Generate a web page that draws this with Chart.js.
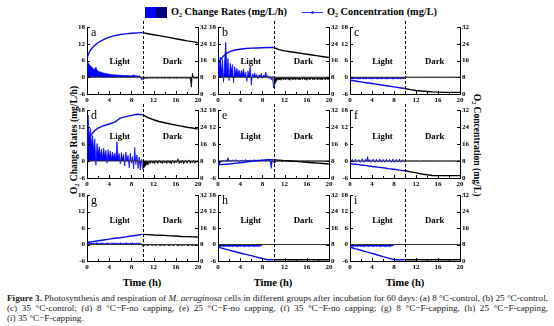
<!DOCTYPE html>
<html>
<head>
<meta charset="utf-8">
<script src="https://cdn.jsdelivr.net/npm/chart.js@4.4.0/dist/chart.umd.min.js"></script>
<style>
  html, body { margin: 0; padding: 0; background: #fff; }
  body { width: 554px; height: 326px; position: relative; overflow: hidden; font-family: "Liberation Serif", "Times New Roman", serif; color: #000; }
  canvas.panel { position: absolute; }
  .abs { position: absolute; white-space: nowrap; }
  sub { font-size: 6px; vertical-align: -2px; line-height: 0; }
  .swatch { position: absolute; top: 7px; width: 11px; height: 11px; }
  .legtext { font: bold 10.3px "Liberation Serif", serif; top: 5px; line-height: 14px; }
  .axtitle { font: bold 9.6px "Liberation Serif", serif; line-height: 11px; }
  .timelab { font: bold 10.5px "Liberation Serif", serif; transform: translate(-50%, -50%); }
  .cap { position: absolute; left: 7px; font-family: "Liberation Serif", "Times New Roman", serif; font-size: 8.4px; line-height: 10px; color: #222; white-space: nowrap; }
</style>
</head>
<body>

<!-- legend -->
<div class="swatch" style="left:145px;background:#0000ff"></div>
<div class="swatch" style="left:156px;background:#000080"></div>
<div class="abs legtext" style="left:171px">O<sub>2</sub> Change Rates (mg/L/h)</div>
<div class="abs" style="left:302px;top:12px;width:21px;height:1px;background:#3030ff"></div>
<div class="abs" style="left:311px;top:11px;width:3px;height:3px;border-radius:2px;background:#3030ff"></div>
<div class="abs legtext" style="left:327px">O<sub>2</sub> Concentration (mg/L)</div>

<!-- axis titles -->
<div class="abs axtitle" style="left:73px;top:140px;transform:translate(-50%,-50%) rotate(-90deg)">O<sub>2</sub> Change Rates (mg/L/h)</div>
<div class="abs axtitle" style="left:477px;top:145px;transform:translate(-50%,-50%) rotate(90deg)">O<sub>2</sub> Concentration (mg/L)</div>

<div class="abs timelab" style="left:142px;top:282px">Time (h)</div>
<div class="abs timelab" style="left:273px;top:282px">Time (h)</div>
<div class="abs timelab" style="left:405px;top:282px">Time (h)</div>

<!-- caption -->
<div class="cap fit" style="top:293px"><b>Figure 3.</b> Photosynthesis and respiration of <i>M. aeruginosa</i> cells in different groups after incubation for 60 days: (a) 8 °C-control, (b) 25 °C-control,</div>
<div class="cap fit" style="top:303px">(c) 35 °C-control; (d) 8 °C−F-no capping, (e) 25 °C−F-no capping, (f) 35 °C−F-no capping; (g) 8 °C−F-capping, (h) 25 °C−F-capping,</div>
<div class="cap" style="top:313px">(i) 35 °C−F-capping.</div>

<script>
// ---- sampling times (h) ----
const rateTimes = [
  0,0.2,0.4,0.6,0.8,1,1.2,1.4,1.6,1.8,
  2,2.2,2.4,2.6,2.8,3,3.2,3.4,3.6,3.8,
  4,4.2,4.4,4.6,4.8,5,5.2,5.4,5.6,5.8,
  6,6.2,6.4,6.6,6.8,7,7.2,7.4,7.6,7.8,
  8,8.2,8.4,8.6,8.8,9,9.2,9.4,9.6,9.8,
  10,10.2,10.4,10.6,10.8,11,11.2,11.4,11.6,11.8,
  12,12.2,12.4,12.6,12.8,13,13.2,13.4,13.6,13.8,
  14,14.2,14.4,14.6,14.8,15,15.2,15.4,15.6,15.8,
  16,16.2,16.4,16.6,16.8,17,17.2,17.4,17.6,17.8,
  18,18.2,18.4,18.6,18.8,19,19.2,19.4,19.6,19.8,
  20];
const concTimes = [0,0.5,1,1.5,2,3,4,5,6,7,8,9,10,11,12,13,14,15,16,17,18,19,20];

// ---- O2 change rates (mg/L/h) ----
const rateA = [
  5.6,5.2,4.6,4.1,3.8,3.3,3.0,2.8,3.6,2.5,
  2.2,2.0,1.9,1.8,1.6,1.5,1.4,1.3,1.2,1.2,
  1.1,1.0,1.0,0.9,0.9,0.9,0.8,0.8,0.8,0.7,
  0.7,0.7,0.7,0.6,0.6,0.6,0.6,0.6,0.5,0.5,
  0.5,0.6,0.9,0.6,0.5,0.5,0.4,0.5,0.3,-0.8,
  -1.0,-0.6,-0.4,-0.3,-0.4,-0.3,-0.2,-0.4,-0.3,-0.3,
  -0.4,-0.2,-0.3,-0.4,-0.3,-0.3,-0.2,-0.4,-0.3,-0.3,
  -0.4,-0.3,-0.2,-0.3,-0.4,-0.3,-0.3,-0.2,-0.4,-0.3,
  -0.3,-0.4,-0.3,-0.2,-0.3,-0.4,-0.3,-0.3,-0.2,-0.4,
  -0.3,-0.3,-0.4,-0.3,-3.6,1.4,-0.3,-0.4,-0.3,-0.3,
  -0.2];
const rateB = [
  8.5,3.5,7.2,2.0,6.4,-1.8,5.8,12.6,1.5,6.8,
  -1.2,5.0,2.2,4.6,-2.0,3.8,1.2,3.2,0.8,2.6,
  0.5,2.4,1.0,3.0,0.4,1.8,-1.5,2.2,0.6,4.0,
  -2.8,1.2,0.3,1.6,0.2,1.0,-0.6,0.9,0.2,1.4,
  -0.4,0.8,0.3,1.8,0.2,0.6,-0.5,0.4,-1.0,0.3,
  -3.8,-2.6,-1.8,-1.2,-0.5,-1.0,-0.6,-1.1,-0.3,-0.9,
  -0.5,-1.0,-0.4,-0.8,-0.6,-1.1,-0.3,-0.9,-0.7,-0.5,
  -1.0,-0.4,-0.8,-0.6,-1.0,-0.3,-0.9,-0.5,-0.8,-0.6,
  -1.1,-0.4,-0.7,-0.9,-0.3,-0.8,-0.6,-1.0,-0.4,-0.7,
  -0.9,-0.5,-0.8,-0.6,-1.0,-0.4,-0.7,-0.9,-0.5,-0.8,
  -0.6];
const rateC = [
  -0.9,-0.6,-0.5,-0.6,-0.5,-0.4,-0.6,-0.5,-0.5,-0.6,
  -0.5,-0.4,-0.6,-0.5,-0.5,-0.6,-0.4,-0.5,-0.6,-0.5,
  -0.5,-0.6,-0.4,-0.5,-0.5,-0.6,-0.5,-0.4,-0.6,-0.5,
  -0.5,-0.4,-0.6,-0.5,-0.5,-0.6,-0.4,-0.5,-0.5,-0.6,
  -0.5,-0.5,-0.4,-0.6,-0.5,-0.5,-0.6,-0.4,-0.5,-0.5,
  -0.3,-0.1,0.0,-0.1,0.0,-0.1,0.0,0.0,-0.1,0.0,
  0.0,-0.1,0.0,0.0,-0.1,0.0,0.0,-0.1,0.0,0.0,
  -0.1,0.0,0.0,-0.1,0.0,0.0,-0.1,0.0,0.0,-0.1,
  0.0,0.0,-0.1,0.0,0.0,-0.1,0.0,0.0,-0.1,0.0,
  0.0,-0.1,0.0,0.0,-0.1,0.0,0.0,-0.1,0.0,0.0,
  0.0];
const rateD = [
  12.0,16.2,8.0,11.5,5.5,9.0,3.5,7.8,-1.5,6.2,
  2.5,5.0,1.8,4.2,0.8,4.6,1.5,3.8,-0.8,4.0,
  1.2,3.5,0.5,3.2,1.0,2.8,0.4,6.8,1.2,2.6,
  -1.0,3.0,0.6,2.4,-1.8,3.2,0.2,2.0,-2.4,2.8,
  -0.8,1.6,-2.8,4.8,-1.2,2.2,-2.6,1.4,-3.2,0.6,
  -2.8,-2.5,-2.0,-1.6,-1.0,-1.4,-0.2,-0.9,0.1,-0.8,
  -0.3,-1.0,0.2,-0.6,-0.9,0.3,-0.7,-0.2,-1.0,0.1,
  -0.6,-0.3,-0.9,0.2,-0.7,-0.4,-1.1,0.3,-0.5,-0.8,
  0.1,-0.6,0.8,-0.9,-0.2,-0.7,0.3,-1.0,-0.4,0.2,
  -0.8,-0.3,0.4,-0.9,-0.2,-0.6,0.3,-0.8,-0.4,-0.1,
  -0.5];
const rateE = [
  -1.6,-1.4,-0.6,0.2,-0.4,0.3,-0.2,0.4,-0.3,1.2,
  -0.2,0.3,-0.3,0.4,0.1,-0.2,0.5,-0.1,0.2,-0.3,
  0.3,0.0,0.4,-0.2,0.2,0.5,-0.1,0.3,0.0,0.4,
  -0.2,0.3,0.1,0.5,-0.1,0.2,0.4,0.0,0.3,-0.1,
  0.4,0.1,0.3,-0.2,0.5,0.1,0.3,0.0,-2.6,0.2,
  -0.4,-0.8,-0.3,0.1,-0.2,0.2,-0.1,0.1,-0.3,0.0,
  0.2,-0.2,0.1,-0.1,0.2,-0.3,0.0,0.1,-0.2,0.1,
  -0.1,0.2,-0.2,0.0,0.1,-0.3,0.2,-0.1,0.0,-0.2,
  0.1,-0.1,0.2,-0.2,0.0,0.1,-0.3,0.1,-0.1,0.0,
  -0.2,0.1,0.0,-0.1,0.2,-0.2,0.0,-0.1,0.1,-0.2,
  0.0];
const rateF = [
  -0.4,-0.3,0.6,-0.3,-0.4,0.7,-0.3,-0.3,0.5,-0.4,
  -0.3,0.8,-0.3,-0.4,0.6,-0.3,1.6,-0.3,0.5,-0.4,
  -0.3,0.7,-0.3,-0.4,0.6,-0.3,-0.3,0.8,-0.4,-0.3,
  0.6,-0.3,-0.4,0.7,-0.3,-0.3,0.6,-0.4,-0.3,0.7,
  -0.3,-0.4,0.6,-0.3,-0.3,0.7,-0.4,-0.3,0.5,-0.3,
  -0.2,0.1,-0.1,0.2,-0.1,0.1,-0.2,0.1,0.0,-0.1,
  0.2,-0.1,0.1,-0.2,0.1,0.0,-0.1,0.2,-0.1,0.1,
  -0.1,0.1,-0.2,0.1,0.0,0.0,0.0,0.0,0.0,0.0,
  0.0,0.0,0.0,0.0,0.0,0.0,0.0,0.0,0.0,0.0,
  0.0,0.0,0.0,0.0,0.0,0.0,0.0,0.0,0.0,0.0,
  0.0];
const rateG = [
  0.6,0.4,0.5,0.3,0.6,0.4,0.5,0.3,0.5,0.6,
  0.4,0.5,0.3,0.6,0.4,0.5,0.4,0.3,0.6,0.4,
  0.5,0.3,0.5,0.4,0.6,0.3,0.5,0.4,0.5,0.3,
  0.6,0.4,0.4,0.5,0.3,0.6,0.4,0.5,0.3,0.5,
  0.4,0.6,0.3,0.5,0.4,0.5,0.3,0.6,0.4,0.2,
  -0.6,-0.4,-0.3,-0.1,-0.3,-0.4,-0.2,0.0,-0.3,-0.4,
  -0.1,-0.3,-0.4,-0.2,0.0,-0.3,-0.3,-0.4,-0.1,-0.3,
  -0.4,-0.2,0.0,-0.3,-0.4,-0.3,-0.1,-0.3,-0.4,-0.2,
  0.0,-0.3,-0.4,-0.3,-0.1,-0.3,-0.4,-0.2,-0.3,0.0,
  -0.3,-0.4,-0.3,-0.1,-0.3,-0.4,-0.3,-0.2,-0.4,-0.3,
  -0.3];
const rateH = [
  -1.2,-0.8,-0.6,-0.7,-0.5,-0.8,-0.6,-0.7,-0.5,-0.8,
  -0.6,-0.7,-0.5,-0.8,-0.6,-0.5,-0.7,-0.6,-0.8,-0.5,
  -0.7,-0.6,-0.5,-0.8,-0.6,-0.7,-0.5,-0.6,-0.8,-0.6,
  -0.5,-0.7,-0.6,-0.8,-0.5,-0.6,-0.7,-0.5,-0.6,-0.4,
  -0.3,null,null,null,null,null,null,null,null,null,
  null,null,null,null,null,null,null,null,null,null,
  null,null,null,null,null,null,null,null,null,null,
  null,null,null,null,null,null,null,null,null,null,
  null,null,null,null,null,null,null,null,null,null,
  null,null,null,null,null,null,null,null,null,null,
  null];
const rateI = [
  -1.1,-0.7,-0.6,-0.8,-0.5,-0.7,-0.6,-0.8,-0.5,-0.6,
  -0.7,-0.5,-0.8,-0.6,-0.7,-0.5,-0.6,-0.8,-0.6,-0.5,
  -0.7,-0.6,-0.8,-0.5,-0.7,-0.6,-0.5,-0.8,-0.6,-0.7,
  -0.5,-0.6,-0.8,-0.7,-0.5,-0.6,-0.7,-0.6,-0.5,-0.4,
  -0.3,null,null,null,null,null,null,null,null,null,
  null,null,null,null,null,null,null,null,null,null,
  null,null,null,null,null,null,null,null,null,null,
  null,null,null,null,null,null,null,null,null,null,
  null,null,null,null,null,null,null,null,null,null,
  null,null,null,null,null,null,null,null,null,null,
  null];

// ---- O2 concentration (mg/L) at concTimes ----
const concA = [17.2,20.5,22.2,23.5,24.6,26.0,27.2,27.9,28.4,28.7,29.0,29.2,29.3,28.8,28.3,27.9,27.4,26.9,26.4,25.9,25.4,25.0,24.5];
const concB = [14.7,16.5,18.2,19.3,20.1,21.0,21.4,21.7,21.9,22.0,22.1,22.2,22.2,21.2,20.6,20.2,19.8,19.4,19.0,18.6,18.2,17.8,17.4];
const concC = [6.6,6.4,6.2,6.0,5.8,5.4,5.0,4.6,4.2,3.8,3.4,3.0,2.6,2.1,1.7,1.4,1.2,1.0,0.9,0.8,0.8,0.8,0.8];
const concD = [11.9,19.5,21.2,22.6,23.5,24.6,25.4,26.3,28.2,28.9,29.5,30.0,29.8,28.4,27.4,26.6,26.0,25.4,24.9,24.4,23.9,23.5,23.0];
const concE = [6.2,6.3,6.4,6.5,6.6,6.9,7.2,7.5,7.8,8.1,8.4,8.6,8.6,8.4,8.2,8.0,7.8,7.6,7.4,7.2,7.0,6.8,6.6];
const concF = [6.8,6.6,6.5,6.3,6.1,5.8,5.4,5.1,4.8,4.4,4.1,3.7,3.4,2.9,2.4,1.9,1.5,1.2,1.1,1.1,1.1,1.1,1.1];
const concG = [9.0,9.2,9.4,9.6,9.8,10.2,10.6,11.0,11.3,11.7,12.1,12.5,12.9,12.8,12.6,12.5,12.4,12.2,12.1,11.9,11.8,11.7,11.6];
const concH = [6.7,6.35,6.0,5.65,5.3,4.6,3.9,3.2,2.6,1.9,1.2,0.6,0.6,0.6,0.6,0.6,0.6,0.6,0.6,0.6,0.6,0.6,0.6];
const concI = [6.7,6.3,5.9,5.6,5.2,4.4,3.7,2.9,2.1,1.4,0.6,0.6,0.6,0.6,0.6,0.6,0.6,0.6,0.6,0.6,0.6,0.6,0.6];

// ---- axis ticks ----
const rateTicks = [-6, 0, 6, 12, 18];
const concTicks = [0, 8, 16, 24, 32];
const timeTicks = [0, 4, 8, 12, 16, 20];
const timeMinorTicks = [2, 6, 10, 14, 18];
const lightEnd = 10;
const panelLetters = ['a','b','c','d','e','f','g','h','i'];

// ---- layout of the 3x3 grid (plot-area pixels) ----
const colLeft = [87, 218, 350], colWidth = [111, 111, 110];
const rowTop = [27, 110, 195], rowHeight = [67, 68, 66];
const PAD_L = 22, PAD_R = 24, PAD_T = 9, PAD_B = 12;
const labelLevel = [5.5, 8.5, 8.5];   // height of "Light"/"Dark" on the rate axis, per row

const BLUE = '#0000ff', DARK = '#000000', CONC_BLUE = '#0a0af0';
const tickFont = { family: '"Liberation Serif", serif', weight: 'bold', size: 7 };

// caption: pick a font size so the longest full line spans the text block,
// then spread the words of each full line to the same width
const CAPTION_WIDTH = 541;
(function fitCaption() {
  const full = Array.from(document.querySelectorAll('.cap.fit'));
  let size = 20;
  full.forEach(el => {
    const w = el.getBoundingClientRect().width;
    size = Math.min(size, 8.4 * (CAPTION_WIDTH - 1) / w);
  });
  document.querySelectorAll('.cap').forEach(el => { el.style.fontSize = size.toFixed(3) + 'px'; });
  full.forEach(el => {
    const w = el.getBoundingClientRect().width;
    const gaps = (el.textContent.match(/ /g) || []).length;
    if (gaps > 0 && w < CAPTION_WIDTH) el.style.wordSpacing = ((CAPTION_WIDTH - w) / gaps).toFixed(3) + 'px';
  });
})();

function points(xs, ys, from, to) {
  const out = [];
  for (let i = 0; i < xs.length; i++) {
    if (xs[i] >= from && xs[i] <= to) out.push({ x: xs[i], y: ys[i] });
  }
  return out;
}

// inward tick marks, light/dark divider, region labels and the panel letter
const panelDecor = {
  id: 'panelDecor',
  afterDraw(chart, args, opts) {
    const { ctx, chartArea: a, scales } = chart;
    const sx = scales.x, sy = scales.y, sy2 = scales.y2;
    ctx.save();
    ctx.strokeStyle = '#000';
    ctx.lineWidth = 1;
    ctx.beginPath();
    timeTicks.forEach(v => {
      const px = Math.round(sx.getPixelForValue(v)) + 0.5;
      ctx.moveTo(px, a.bottom); ctx.lineTo(px, a.bottom - 3);
    });
    timeMinorTicks.forEach(v => {
      const px = Math.round(sx.getPixelForValue(v)) + 0.5;
      ctx.moveTo(px, a.bottom); ctx.lineTo(px, a.bottom - 2);
    });
    rateTicks.forEach(v => {
      const py = Math.round(sy.getPixelForValue(v)) + 0.5;
      ctx.moveTo(a.left, py); ctx.lineTo(a.left + 3, py);
    });
    concTicks.forEach(v => {
      const py = Math.round(sy2.getPixelForValue(v)) + 0.5;
      ctx.moveTo(a.right, py); ctx.lineTo(a.right - 3, py);
    });
    ctx.stroke();

    const dx = Math.round(sx.getPixelForValue(lightEnd)) + 0.5;
    ctx.setLineDash([3, 2]);
    ctx.beginPath();
    ctx.moveTo(dx, a.top - 6); ctx.lineTo(dx, a.bottom);
    ctx.stroke();
    ctx.setLineDash([]);

    ctx.fillStyle = '#000';
    ctx.font = 'bold 8.8px "Liberation Serif", serif';
    ctx.textAlign = 'center';
    ctx.textBaseline = 'middle';
    ctx.fillText('Light', sx.getPixelForValue(5.9), sy.getPixelForValue(opts.level));
    ctx.fillText('Dark', sx.getPixelForValue(15.4), sy.getPixelForValue(opts.level));

    ctx.font = '12px "Liberation Serif", serif';
    ctx.textAlign = 'left';
    ctx.textBaseline = 'alphabetic';
    ctx.fillText(opts.letter, a.left + 4, a.top + 9);
    ctx.restore();
  }
};

const rates = [rateA, rateB, rateC, rateD, rateE, rateF, rateG, rateH, rateI];
const concs = [concA, concB, concC, concD, concE, concF, concG, concH, concI];

function tickList(list) { return s => { s.ticks = list.map(v => ({ value: v })); }; }

for (let p = 0; p < 9; p++) {
  const row = Math.floor(p / 3), col = p % 3;
  const W = colWidth[col], H = rowHeight[row];
  const cv = document.createElement('canvas');
  cv.className = 'panel';
  cv.width = PAD_L + W + PAD_R;
  cv.height = PAD_T + H + PAD_B;
  cv.style.left = (colLeft[col] - PAD_L) + 'px';
  cv.style.top = (rowTop[row] - PAD_T) + 'px';
  cv.style.width = cv.width + 'px';
  cv.style.height = cv.height + 'px';
  document.body.appendChild(cv);

  const datasets = [
    { data: points(concTimes, concs[p], 0, lightEnd), yAxisID: 'y2', borderColor: CONC_BLUE, borderWidth: 1.4, pointRadius: 0, fill: false, order: 0 },
    { data: points(concTimes, concs[p], lightEnd, 20), yAxisID: 'y2', borderColor: DARK, borderWidth: 1.4, pointRadius: 0, fill: false, order: 0 },
    { data: [{ x: 0, y: 0 }, { x: 20, y: 0 }], yAxisID: 'y', borderColor: '#333', borderWidth: 1, pointRadius: 0, fill: false, order: 1 },
    { data: points(rateTimes, rates[p], 0, lightEnd), yAxisID: 'y', borderColor: BLUE, backgroundColor: BLUE, borderWidth: 0.7, pointRadius: 0, fill: 'origin', order: 2 },
    { data: points(rateTimes, rates[p], lightEnd, 20), yAxisID: 'y', borderColor: DARK, backgroundColor: DARK, borderWidth: 0.7, pointRadius: 0, fill: 'origin', order: 2 }
  ];

  new Chart(cv, {
    type: 'line',
    data: { datasets },
    options: {
      responsive: false,
      animation: false,
      events: [],
      devicePixelRatio: 1,
      layout: { padding: { top: PAD_T, left: 0, right: 0, bottom: 0 } },
      elements: { line: { tension: 0 } },
      plugins: {
        legend: { display: false },
        tooltip: { enabled: false },
        panelDecor: { letter: panelLetters[p], level: labelLevel[row] }
      },
      scales: {
        x: {
          type: 'linear', min: 0, max: 20,
          afterBuildTicks: tickList(timeTicks),
          afterFit: s => { s.height = PAD_B; },
          grid: { drawOnChartArea: false, drawTicks: false },
          border: { color: '#000', width: 1 },
          ticks: { font: tickFont, color: '#000', padding: 2, maxRotation: 0, autoSkip: false }
        },
        y: {
          type: 'linear', position: 'left', min: -6, max: 18,
          afterBuildTicks: tickList(rateTicks),
          afterFit: s => { s.width = PAD_L; },
          grid: { drawOnChartArea: false, drawTicks: false },
          border: { color: '#000', width: 1 },
          ticks: { font: tickFont, color: '#000', padding: 2 }
        },
        y2: {
          type: 'linear', position: 'right', min: 0, max: 32,
          afterBuildTicks: tickList(concTicks),
          afterFit: s => { s.width = PAD_R; },
          grid: { drawOnChartArea: false, drawTicks: false },
          border: { color: '#000', width: 1 },
          ticks: { font: tickFont, color: '#000', padding: 2 }
        }
      }
    },
    plugins: [panelDecor]
  });
}
</script>
</body>
</html>
